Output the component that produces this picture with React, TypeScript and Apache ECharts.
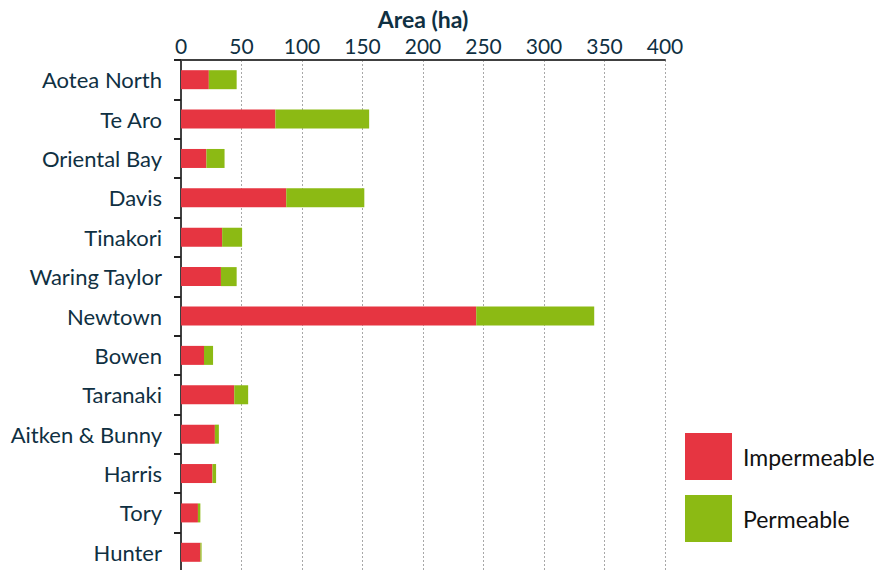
import React, { useEffect, useRef } from "react";
import * as echarts from "echarts";

// Catchment areas (ha), listed top to bottom
const catchments = [
  "Aotea North",
  "Te Aro",
  "Oriental Bay",
  "Davis",
  "Tinakori",
  "Waring Taylor",
  "Newtown",
  "Bowen",
  "Taranaki",
  "Aitken & Bunny",
  "Harris",
  "Tory",
  "Hunter",
];
const impermeable = [23, 78, 21, 87, 34, 33, 244, 19, 44, 28, 26, 14, 16];
const permeable = [23, 77.5, 15, 64.5, 16.5, 13, 97.5, 7.5, 11.5, 3.3, 3, 2, 1];
const areaTicks = { min: 0, max: 400, interval: 50 };

const FONT = "Lato, 'Open Sans', sans-serif";
const TEXT = "#0f3042";

export default function App() {
  const ref = useRef<HTMLDivElement>(null);

  useEffect(() => {
    document.body.style.margin = "0";
    if (!ref.current) return;
    const chart = echarts.init(ref.current, null, { renderer: "svg" });
    chart.setOption({
      animation: false,
      textStyle: { fontFamily: FONT },
      grid: {
        left: 181,
        top: 60,
        width: 484,
        height: 512,
        containLabel: false,
        outerBoundsMode: "none",
      },
      legend: {
        orient: "vertical",
        left: 685,
        top: 433,
        padding: 0,
        itemWidth: 47,
        itemHeight: 47,
        itemGap: 15,
        icon: "rect",
        textStyle: { fontSize: 23, color: "#111", fontFamily: FONT, padding: [0, 0, 0, 6] },
        data: ["Impermeable", "Permeable"],
      },
      xAxis: {
        type: "value",
        position: "top",
        min: areaTicks.min,
        max: areaTicks.max,
        interval: areaTicks.interval,
        name: "Area (ha)",
        nameLocation: "middle",
        nameGap: 28,
        nameTextStyle: { fontSize: 23, fontWeight: "bold", color: TEXT, fontFamily: FONT },
        axisLine: { show: true, lineStyle: { color: "#404040", width: 2 } },
        axisTick: { show: false },
        axisLabel: { fontSize: 21, color: TEXT, margin: 4, fontFamily: FONT },
        splitLine: { show: true, lineStyle: { color: "#a8a8a8", type: [2, 2], width: 1 } },
      },
      yAxis: {
        type: "category",
        inverse: true,
        data: catchments,
        axisLine: { show: true, lineStyle: { color: "#404040", width: 2 } },
        axisTick: { show: true, length: 7, lineStyle: { color: "#222", width: 2 } },
        axisLabel: { fontSize: 22, color: TEXT, margin: 19, fontFamily: FONT, padding: [0, 0, 4, 0] },
      },
      series: [
        {
          name: "Impermeable",
          type: "bar",
          stack: "area",
          data: impermeable,
          barWidth: 19,
          itemStyle: { color: "#e63541" },
        },
        {
          name: "Permeable",
          type: "bar",
          stack: "area",
          data: permeable,
          barWidth: 19,
          itemStyle: { color: "#8cba14" },
        },
      ],
    });
    return () => chart.dispose();
  }, []);

  return <div ref={ref} style={{ width: 874, height: 570 }} />;
}
